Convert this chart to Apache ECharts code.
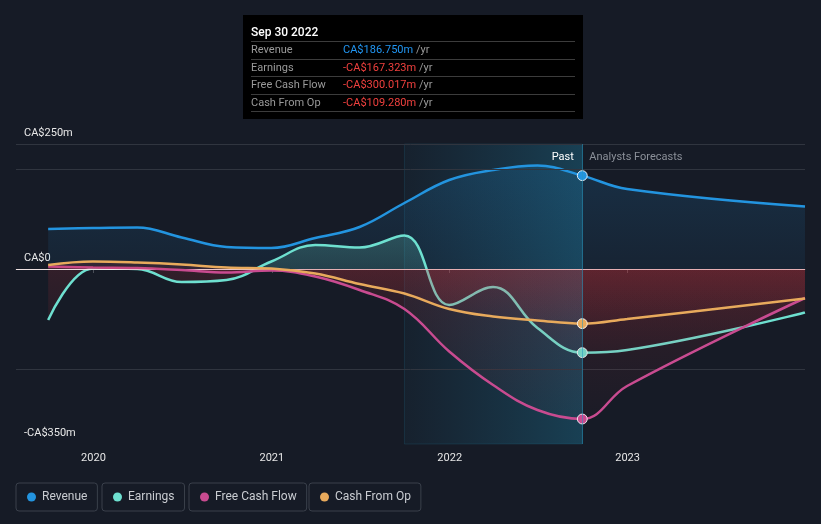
<!DOCTYPE html>
<html>
<head>
<meta charset="utf-8">
<script src="https://cdn.jsdelivr.net/npm/echarts@6/dist/echarts.min.js"></script>
<style>
html,body{margin:0;padding:0;background:#161b26;}
#chart{width:821px;height:524px;}
</style>
</head>
<body>
<div id="chart"></div>
<script>
// ---- data ----
const dates = ['2019-09-30','2019-12-31','2020-03-31','2020-06-30','2020-09-30','2020-12-31',
  '2021-03-31','2021-06-30','2021-09-30','2021-12-31','2022-03-31','2022-06-30','2022-09-30',
  '2022-12-31','2023-12-31'];
const revenue      = [80, 82, 83, 63, 44, 42, 62, 84, 132, 178, 198, 207, 186.750, 160, 125];
const earnings     = [-102, 1, 0, -26, -22, 15, 48, 43, 67, -72, -36, -118, -167.323, -162, -87];
const freeCashFlow = [5, 3, 2, -2, -7, -3, -15, -42, -80, -165, -232, -282, -300.017, -234, -58];
const cashFromOp   = [8, 15, 13, 9, 3, 1, -9, -30, -49, -80, -95, -103, -109.280, -100, -59];
const seriesNames  = ['Revenue', 'Earnings', 'Free Cash Flow', 'Cash From Op'];
const yTickLabels  = {'250': 'CA$250m', '0': 'CA$0', '-350': '-CA$350m'};
const gridValues   = [250, 200, -200];
const pastIndex    = 12;            // Sep 30 2022 (last reported)
const pastStart    = '2021-09-30';  // start of last-year band
const xMin = '2019-07-26', xMax = '2023-12-31';
const yMin = -350, yMax = 250;

const colors = ['#2394df', '#6ee0d0', '#c84b90', '#e8aa5c'];
const BG = '#161b26';
const FONT = 'Roboto, "Noto Sans", sans-serif';

function pairs(arr, color) {
  return dates.map((d, i) => i === pastIndex
    ? {value: [d, arr[i]], symbol: 'circle', symbolSize: 9,
       itemStyle: {color: color, borderColor: 'rgba(255,255,255,0.85)', borderWidth: 1}}
    : [d, arr[i]]);
}
function lg(stops) {
  return new echarts.graphic.LinearGradient(0, 0, 0, 1, stops.map(s => ({offset: s[0], color: s[1]})));
}
function splitGrad(arr, posTop, posBot, negTop, negBot) {
  const mx = Math.max(0, ...arr), mn = Math.min(0, ...arr);
  const z = mx / (mx - mn);
  return lg([[0, posTop], [z, posBot], [z, negTop], [1, negBot]]);
}

const areaFills = [
  lg([[0, 'rgba(35,148,223,0.24)'], [1, 'rgba(35,148,223,0.10)']]),
  splitGrad(earnings, 'rgba(110,224,208,0.32)', 'rgba(110,224,208,0.22)', 'rgba(205,50,60,0.22)', 'rgba(205,50,60,0.05)'),
  splitGrad(freeCashFlow, 'rgba(205,50,60,0.22)', 'rgba(205,50,60,0.22)', 'rgba(205,50,60,0.22)', 'rgba(205,50,60,0.04)'),
  splitGrad(cashFromOp, 'rgba(205,50,60,0.22)', 'rgba(205,50,60,0.22)', 'rgba(205,50,60,0.22)', 'rgba(205,50,60,0.06)')
];
const values = [revenue, earnings, freeCashFlow, cashFromOp];

const series = values.map((arr, k) => ({
  name: seriesNames[k],
  type: 'line',
  smooth: 0.4,
  showSymbol: true,
  symbol: 'none',
  data: pairs(arr, colors[k]),
  lineStyle: {color: colors[k], width: 2.5},
  itemStyle: {color: colors[k]},
  areaStyle: {color: areaFills[k], origin: 0},
  emphasis: {disabled: true},
  z: 3 + k
}));

// gridlines, zero line, past band and labels attached to the first series
series[0].markLine = {
  silent: true, symbol: 'none', animation: false,
  label: {show: false},
  data: gridValues.map(v => ({yAxis: v, lineStyle: {color: '#30353f', width: 1, type: 'solid'}}))
    .concat([{yAxis: 0, lineStyle: {color: 'rgba(255,240,240,0.9)', width: 1.2, type: 'solid'}}])
};
series[0].markArea = {
  silent: true,
  data: [
    [{xAxis: pastStart,
      itemStyle: {color: new echarts.graphic.LinearGradient(0, 0, 1, 0, [
        {offset: 0, color: 'rgba(30,130,170,0.06)'},
        {offset: 1, color: 'rgba(30,150,190,0.30)'}]),
        borderColor: 'rgba(40,140,170,0.18)', borderWidth: 1},
      label: {show: true, position: 'insideTopRight', distance: 6, padding: [2, 3, 0, 0],
        formatter: 'Past', color: '#ffffff', fontSize: 11, fontFamily: FONT}},
     {xAxis: dates[pastIndex]}],
    [{xAxis: dates[pastIndex],
      itemStyle: {color: 'rgba(0,0,0,0)'},
      label: {show: true, position: 'insideTopLeft', distance: 6, padding: [2, 0, 0, 1],
        formatter: 'Analysts Forecasts', color: '#8b9099', fontSize: 11, fontFamily: FONT}},
     {xAxis: xMax}]
  ]
};

function fmtVal(v) {
  return (v < 0 ? '-' : '') + 'CA$' + Math.abs(v).toFixed(3) + 'm';
}
const MONTHS = ['Jan','Feb','Mar','Apr','May','Jun','Jul','Aug','Sep','Oct','Nov','Dec'];
function fmtDate(s) {
  const p = s.split('-');
  return MONTHS[parseInt(p[1], 10) - 1] + ' ' + parseInt(p[2], 10) + ' ' + p[0];
}
function tooltipHtml() {
  let h = '<div style="font-family:' + FONT.replace(/"/g, "'") + ';">';
  h += '<div style="font-size:12px;font-weight:500;color:#fff;height:17px;line-height:17px;border-bottom:1px solid #3c3c3c;">' + fmtDate(dates[pastIndex]) + '</div>';
  values.forEach((arr, k) => {
    const v = arr[pastIndex];
    const c = v < 0 ? '#f0403e' : '#2196f3';
    h += '<div style="display:flex;font-size:11px;height:16.6px;line-height:16.6px;border-bottom:1px solid #3c3c3c;">' +
      '<span style="width:92px;color:#9a9a9a;">' + seriesNames[k] + '</span>' +
      '<span style="color:' + c + ';">' + fmtVal(v) + '</span>' +
      '<span style="color:#9a9a9a;">&nbsp;/yr</span></div>';
  });
  h += '</div>';
  return h;
}

const legendLefts = [16, 102, 189, 309];
const legends = seriesNames.map((n, k) => ({
  data: [n],
  left: legendLefts[k], top: 483,
  icon: 'circle', itemWidth: 9, itemHeight: 9,
  padding: [8, 10, 8, 11],
  borderColor: '#3a404b', borderWidth: 1, borderRadius: 3,
  selectedMode: false,
  textStyle: {color: '#c9ccd1', fontSize: 12, fontFamily: FONT, padding: [0, 0, 0, 1]}
}));

const chart = echarts.init(document.getElementById('chart'), null, {renderer: 'canvas'});
chart.setOption({
  backgroundColor: BG,
  animation: false,
  textStyle: {fontFamily: FONT},
  color: colors,
  grid: {left: 16, right: 16, top: 144, bottom: 80, containLabel: false},
  legend: legends,
  tooltip: {
    trigger: 'axis',
    triggerOn: 'none',
    alwaysShowContent: true,
    transitionDuration: 0,
    position: [243, 15],
    backgroundColor: '#000',
    borderWidth: 0,
    padding: [9, 8, 7, 8],
    extraCssText: 'box-shadow:none;border-radius:0;width:324px;',
    axisPointer: {type: 'line', lineStyle: {color: 'rgba(40,150,190,0.55)', width: 1, type: 'solid'}, label: {show: false}},
    formatter: tooltipHtml
  },
  xAxis: {
    type: 'time',
    min: xMin, max: xMax,
    minInterval: 365 * 24 * 3600 * 1000,
    splitNumber: 4,
    axisLine: {show: true, lineStyle: {color: '#4a4f58', width: 1}},
    axisTick: {show: true, length: 4, lineStyle: {color: '#4a4f58'}},
    splitLine: {show: false},
    axisLabel: {color: '#e6e6e6', fontSize: 11, margin: 9, fontFamily: FONT,
      formatter: v => String(new Date(v).getFullYear())}
  },
  yAxis: {
    type: 'value',
    min: yMin, max: yMax, interval: 50,
    axisLine: {show: false}, axisTick: {show: false}, splitLine: {show: false},
    axisLabel: {
      inside: true, margin: 8, color: '#e8e8e8', fontSize: 11, fontFamily: FONT,
      verticalAlign: 'bottom', padding: [0, 0, 5, 0],
      showMinLabel: true, showMaxLabel: true,
      formatter: v => yTickLabels[String(v)] || ''
    }
  },
  series: series
});
chart.dispatchAction({type: 'showTip', seriesIndex: 0, dataIndex: pastIndex});
</script>
</body>
</html>
